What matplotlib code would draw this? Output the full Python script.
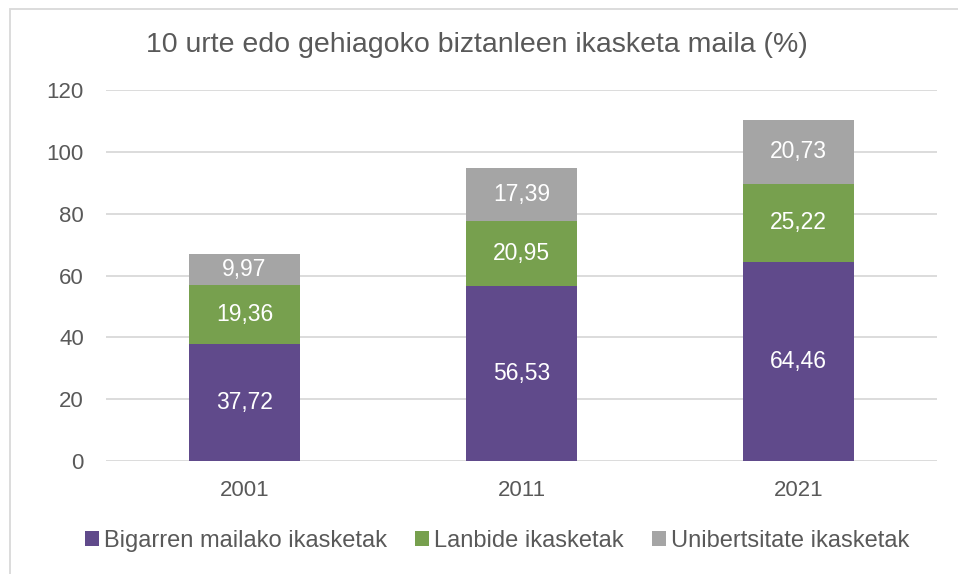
import matplotlib.pyplot as plt
from matplotlib.patches import Patch, Rectangle
import numpy as np

plt.rcParams['font.family'] = ['Liberation Sans', 'DejaVu Sans']

# data
years = ['2001', '2011', '2021']
bigarren = [37.72, 56.53, 64.46]
lanbide = [19.36, 20.95, 25.22]
unibertsitate = [9.97, 17.39, 20.73]
series_names = ['Bigarren mailako ikasketak', 'Lanbide ikasketak',
                'Unibertsitate ikasketak']
colors = ['#604A8B', '#77A04E', '#A5A5A5']
textcol = '#595959'

fig = plt.figure(figsize=(9.58, 5.74), dpi=100)
# light frame round the chart (cut off at right and bottom)
fig.patches.append(Rectangle((10 / 958, -0.1), 1.2, 1.1 - 9 / 574 + 0.0,
                             transform=fig.transFigure, fill=False,
                             edgecolor='#D9D9D9', linewidth=1.3))

ax = fig.add_axes([106 / 958, 113 / 574, 831 / 958, 371 / 574])
x = np.arange(len(years))
width = 0.4
bottom = np.zeros(len(years))
for vals, col in zip([bigarren, lanbide, unibertsitate], colors):
    bars = ax.bar(x, vals, width, bottom=bottom, color=col, zorder=3)
    for b, v in zip(bars, vals):
        ax.text(b.get_x() + b.get_width() / 2, b.get_y() + v / 2,
                ('%.2f' % v).replace('.', ','), ha='center', va='center',
                color='white', fontsize=16.5, zorder=4)
    bottom += np.array(vals)

ax.set_xlim(-0.5, 2.5)
ax.set_ylim(0, 120)
ax.set_yticks(range(0, 121, 20))
ax.set_xticks(x)
ax.set_xticklabels(years)
ax.yaxis.grid(True, color='#D9D9D9', linewidth=1.3, zorder=0)
for s in ax.spines.values():
    s.set_visible(False)
ax.tick_params(axis='both', length=0, labelsize=16, labelcolor=textcol)
ax.tick_params(axis='y', pad=16)
ax.tick_params(axis='x', pad=14)

fig.text(477 / 958, 1 - 45 / 574, '10 urte edo gehiagoko biztanleen ikasketa maila (%)',
         ha='center', va='center', fontsize=20.5, color=textcol)

handles = [Patch(facecolor=c) for c in colors]
fig.legend(handles, series_names, loc='center', bbox_to_anchor=(497 / 958, 1 - 541 / 574),
           ncol=3, frameon=False, fontsize=17, labelcolor=textcol,
           handlelength=0.6, handleheight=0.6, handletextpad=0.2, columnspacing=1.2)

plt.savefig('out.png', dpi=100)
